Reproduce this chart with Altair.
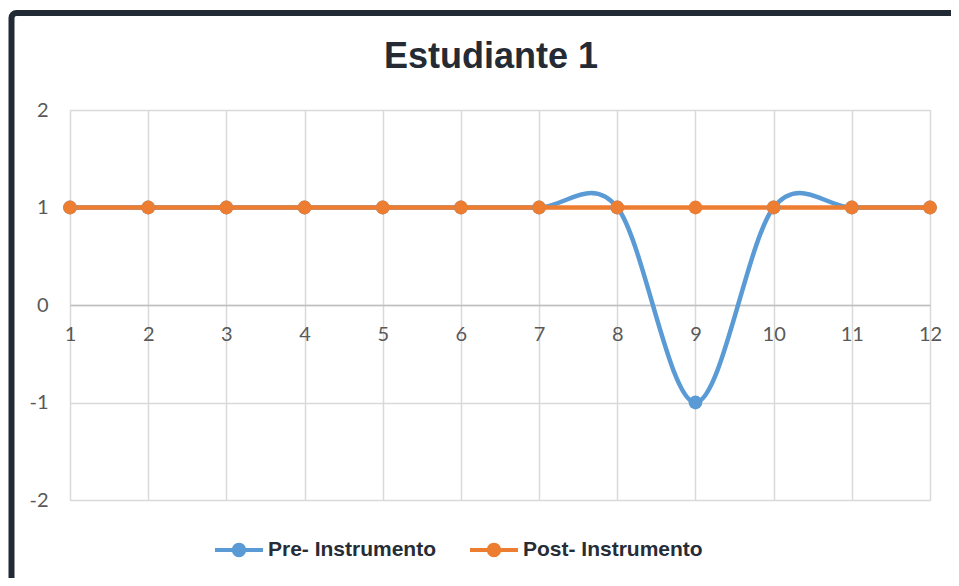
import altair as alt
import pandas as pd

x_vals = [1, 2, 3, 4, 5, 6, 7, 8, 9, 10, 11, 12]
pre_vals = [1, 1, 1, 1, 1, 1, 1, 1, -1, 1, 1, 1]
post_vals = [1, 1, 1, 1, 1, 1, 1, 1, 1, 1, 1, 1]
series = ["Pre- Instrumento", "Post- Instrumento"]
colors = ["#5B9BD5", "#ED7D31"]
y_ticks = [-2, -1, 0, 1, 2]

rows = []
for xv, v in zip(x_vals, pre_vals):
    rows.append({"x": xv, "serie": series[0], "v": v})
for xv, v in zip(x_vals, post_vals):
    rows.append({"x": xv, "serie": series[1], "v": v})
df = pd.DataFrame(rows)

W, H = 860, 390

xs = alt.Scale(domain=[1, 12], nice=False, zero=False)
ys = alt.Scale(domain=[-2, 2], nice=False, zero=False)
cs = alt.Scale(domain=series, range=colors)

sym_path = ("M-1,-0.085H1V0.085H-1Z "
            "M-0.3,0A0.3,0.3 0 1,1 0.3,0A0.3,0.3 0 1,1 -0.3,0Z")

base = alt.Chart(df)

x_enc = alt.X("x:Q", scale=xs, axis=alt.Axis(
    values=x_vals, title=None, offset=-195, ticks=False,
    labelExpr="'' + datum.value",
    domainColor="#bfbfbf", domainWidth=1.5, labelFlush=False,
    labelPadding=19, labelFontSize=20, labelColor="#595959", labelFont="Lato",
    gridColor="#d9d9d9", gridWidth=1.5))
y_enc = alt.Y("v:Q", scale=ys, axis=alt.Axis(
    values=y_ticks, title=None, ticks=False, domain=False,
    labelExpr="'' + datum.value",
    labelPadding=22, labelFontSize=20, labelColor="#595959", labelFont="Lato",
    gridColor="#d9d9d9", gridWidth=1.5))

legend = alt.Legend(
    title=None, orient="none", legendX=145, legendY=416, direction="horizontal",
    symbolType=sym_path, symbolSize=2304, symbolStrokeWidth=0, symbolOpacity=1,
    labelFont="Liberation Sans", labelFontWeight="bold", labelFontSize=21,
    labelColor="#262d36", labelOffset=5, labelLimit=400)

c_enc = alt.Color("serie:N", scale=cs, legend=legend, sort=series)

lines = base.mark_line(interpolate="cardinal", tension=0, strokeWidth=4.5).encode(
    x=x_enc, y=y_enc, color=c_enc)
points = base.mark_point(filled=True, size=190, opacity=1).encode(
    x=x_enc, y=y_enc, color=c_enc)

frame = alt.Chart(alt.Data(values=[{}])).mark_rect(
    fill="transparent", stroke="#222a35", strokeWidth=6, cornerRadius=5, clip=False
).encode(x=alt.value(-58.5), x2=alt.value(920), y=alt.value(-97), y2=alt.value(520))

chart = alt.layer(frame, lines, points).properties(
    width=W, height=H,
    title=alt.TitleParams("Estudiante 1", font="Liberation Sans", fontSize=36,
                          fontWeight="bold", color="#252b35", anchor="middle",
                          baseline="alphabetic", offset=-94, dx=-9),
    autosize=alt.AutoSizeParams(type="none"),
    padding={"left": 62, "top": 102, "right": 21, "bottom": 78},
).configure_view(stroke=None).configure(background="white").configure_legend(
    columnPadding=33)

chart.save("out.html", embed_options={"renderer": "svg", "actions": False})
